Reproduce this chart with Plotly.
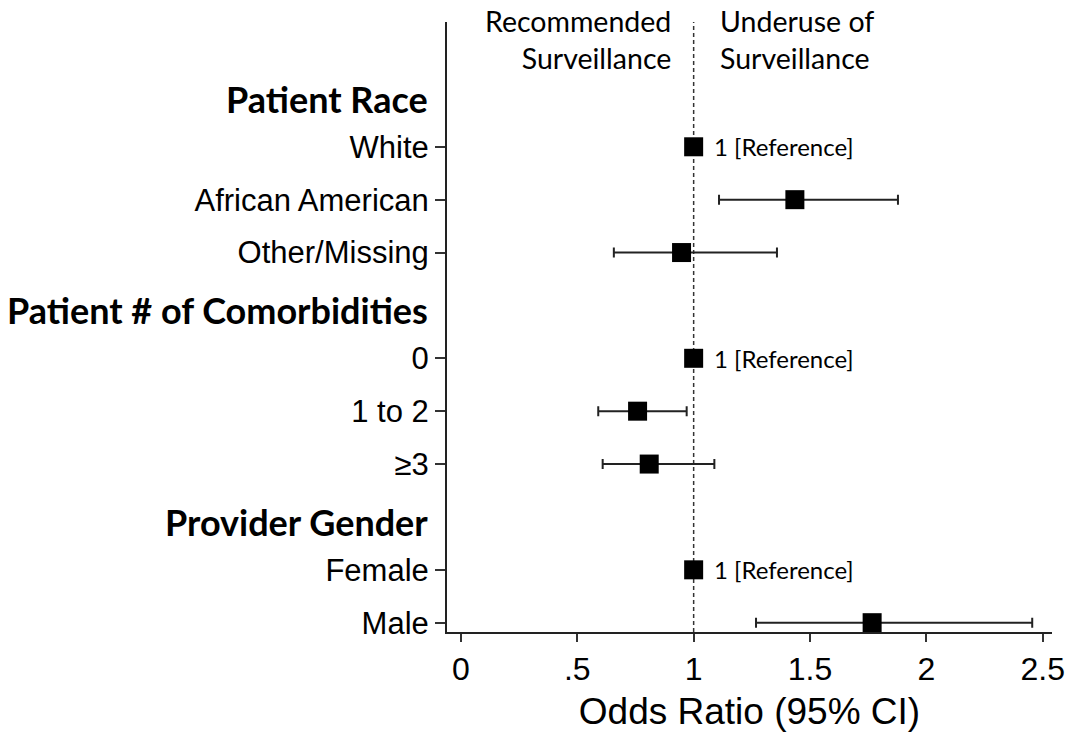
import plotly.graph_objects as go

# Odds ratios of surveillance underuse, grouped by characteristic
groups = ["Patient Race", "Patient # of Comorbidities", "Provider Gender"]
group_items = [
    ["White", "African American", "Other/Missing"],
    ["0", "1 to 2", "≥3"],
    ["Female", "Male"],
]
odds_ratio = [1.0, 1.435, 0.948, 1.0, 0.759, 0.809, 1.0, 1.767]
ci_lower = [None, 1.109, 0.657, None, 0.590, 0.609, None, 1.268]
ci_upper = [None, 1.878, 1.358, None, 0.970, 1.089, None, 2.455]
is_reference = [True, False, False, True, False, False, True, False]

x_tick_vals = [0, 0.5, 1, 1.5, 2, 2.5]
x_tick_text = ["0", ".5", "1", "1.5", "2", "2.5"]

# Lay rows out top to bottom: a header row, then its items
n_rows = len(groups) + sum(len(g) for g in group_items)
header_y, item_y, item_labels = [], [], []
pos = n_rows - 1
for g, items in zip(groups, group_items):
    header_y.append(pos)
    pos -= 1
    for it in items:
        item_y.append(pos)
        item_labels.append(it)
        pos -= 1

est_y = [y for y, ref in zip(item_y, is_reference) if not ref]
est_x = [v for v, ref in zip(odds_ratio, is_reference) if not ref]
err_plus = [u - v for u, v, ref in zip(ci_upper, odds_ratio, is_reference) if not ref]
err_minus = [v - l for l, v, ref in zip(ci_lower, odds_ratio, is_reference) if not ref]
ref_y = [y for y, ref in zip(item_y, is_reference) if ref]
ref_x = [v for v, ref in zip(odds_ratio, is_reference) if ref]

fig = go.Figure()

fig.add_trace(go.Scatter(
    x=est_x, y=est_y, mode="markers",
    marker=dict(symbol="square", size=19, color="black"),
    error_x=dict(type="data", symmetric=False, array=err_plus, arrayminus=err_minus,
                 color="#222222", thickness=2, width=5),
    showlegend=False, hoverinfo="skip",
))
fig.add_trace(go.Scatter(
    x=ref_x, y=ref_y, mode="markers",
    marker=dict(symbol="square", size=19, color="black"),
    showlegend=False, hoverinfo="skip",
))

annotations = []
for x, y in zip(ref_x, ref_y):
    annotations.append(dict(
        x=x, y=y, xref="x", yref="y", text=f"{x:g} [Reference]",
        showarrow=False, xanchor="left", yanchor="middle", xshift=18,
        font=dict(family="Lato", size=24, color="black"),
    ))
for g, y in zip(groups, header_y):
    annotations.append(dict(
        x=0, y=y, xref="paper", yref="y", text=f"<b>{g}</b>",
        showarrow=False, xanchor="right", yanchor="middle", xshift=-17, yshift=-5,
        font=dict(family="Lato", size=36, color="black"),
    ))
annotations.append(dict(
    x=1, y=1, xref="x", yref="paper", text="Recommended<br>Surveillance",
    showarrow=False, xanchor="right", yanchor="middle", xshift=-21, yshift=-17,
    align="right", font=dict(family="Lato", size=28.5, color="black"),
))
annotations.append(dict(
    x=1, y=1, xref="x", yref="paper", text="Underuse of<br>Surveillance",
    showarrow=False, xanchor="left", yanchor="middle", xshift=24, yshift=-17,
    align="left", font=dict(family="Lato", size=28.5, color="black"),
))

fig.add_shape(type="line", x0=1, x1=1, y0=0, y1=1, xref="x", yref="paper",
              line=dict(color="#333333", width=1.5, dash="4px,3px"), layer="below")

fig.update_layout(
    width=1076, height=741,
    margin=dict(l=447, r=24, t=22, b=109),
    paper_bgcolor="white", plot_bgcolor="white",
    annotations=annotations,
    xaxis=dict(
        range=[-0.06, 2.54], tickvals=x_tick_vals, ticktext=x_tick_text,
        ticks="outside", ticklen=8, tickwidth=1.5, tickcolor="#333333",
        showline=True, linecolor="#222222", linewidth=2, showgrid=False, zeroline=False,
        tickfont=dict(family="Liberation Sans", size=32, color="black"),
        title=dict(text="Odds Ratio (95% CI)", standoff=12,
                   font=dict(family="Liberation Sans", size=37, color="black")),
    ),
    yaxis=dict(
        range=[-0.176, n_rows - 1 + 1.36], tickvals=item_y, ticktext=item_labels,
        ticks="outside", ticklen=10, tickwidth=1.5, tickcolor="#333333",
        showline=True, linecolor="#222222", linewidth=2, showgrid=False, zeroline=False,
        tickfont=dict(family="Liberation Sans", size=31, color="black"),
    ),
)

fig.write_html("out.html")
